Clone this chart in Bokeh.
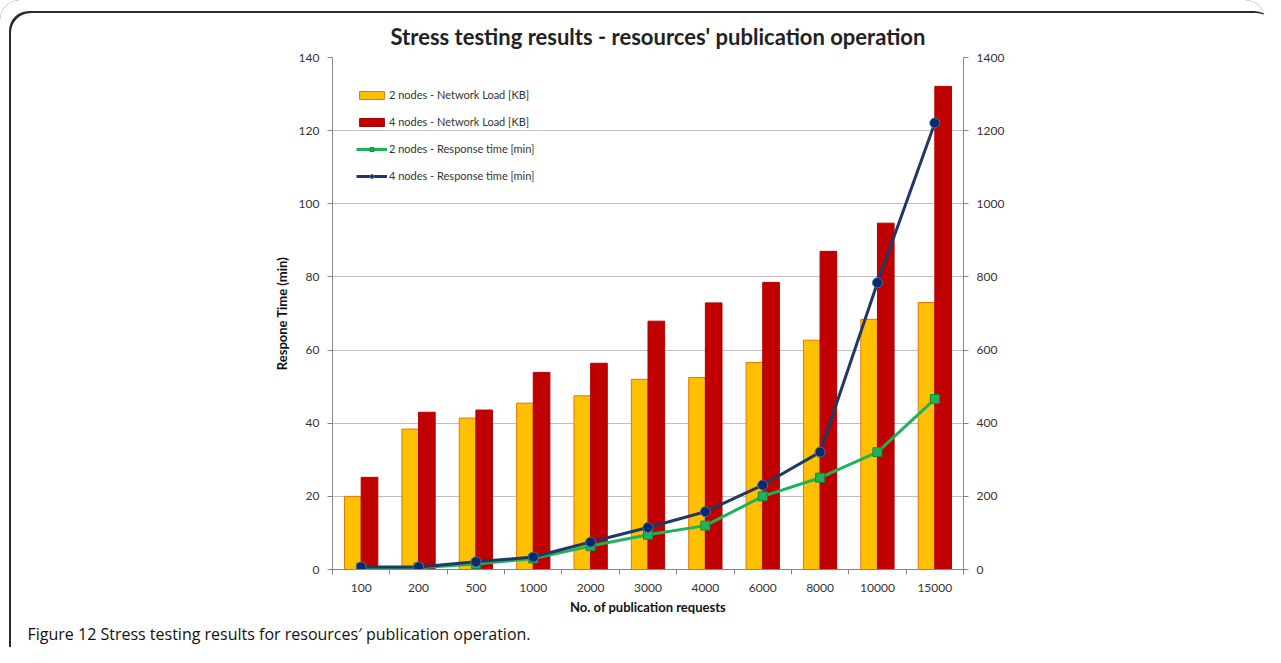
import math
import numpy as np
from bokeh.plotting import figure
from bokeh.models import (Range1d, LinearAxis, FixedTicker, Legend, LegendItem,
                          Label, ColumnDataSource, Title)
from bokeh.embed import file_html
from bokeh.resources import INLINE

# ---------------- data ----------------
categories = ["100", "200", "500", "1000", "2000", "3000", "4000", "6000", "8000", "10000", "15000"]
load_2_nodes = [200, 384, 414, 455, 475, 520, 525, 566, 627, 684, 730]      # KB
load_4_nodes = [252, 430, 436, 539, 564, 679, 729, 785, 870, 947, 1321]     # KB
time_2_nodes = [0.5, 0.5, 1.5, 3.0, 6.4, 9.5, 12.0, 20.0, 25.1, 32.1, 46.6]  # min
time_4_nodes = [0.7, 0.7, 2.1, 3.4, 7.5, 11.5, 15.8, 23.1, 32.1, 78.4, 122.1]  # min

left_ticks = [0, 20, 40, 60, 80, 100, 120, 140]
right_ticks = [0, 200, 400, 600, 800, 1000, 1200, 1400]

title_text = "Stress testing results - resources' publication operation"
caption_text = "Figure 12 Stress testing results for resources\u2032 publication operation."

# ---------------- geometry helpers ----------------
n = len(categories)
centers = np.arange(n) + 0.5
bar_w = 0.29
src = ColumnDataSource(dict(
    x=centers,
    x_2=centers - bar_w / 2,
    x_4=centers + bar_w / 2,
    load2=load_2_nodes,
    load4=load_4_nodes,
    t2=time_2_nodes,
    t4=time_4_nodes,
))

FONT = "Lato"
W, H = 1265, 647
FL, FT, FR, FB = 332, 57, 963, 570   # frame edges in canvas px

p = figure(width=W, height=H, output_backend="svg", toolbar_location=None,
           x_range=Range1d(0, n), y_range=Range1d(0, 140),
           min_border_left=FL, min_border_right=W - FR,
           min_border_top=FT, min_border_bottom=H - FB)
p.outline_line_color = None
p.background_fill_color = "white"
p.border_fill_color = None
# thin rounded panel frame drawn behind the (transparent) canvas border area
p.styles = {"box-shadow": "inset 9px 11px 0 0 #ffffff, inset 11px 13px 0 0 #2b2b2b",
            "border-radius": "20px 20px 0 0", "background-color": "#ffffff"}

p.extra_y_ranges = {"right": Range1d(0, 1400)}

# title
p.title.text = title_text
p.title.align = "left"
p.title.offset = 58
p.title.text_font = FONT
p.title.text_font_size = "22px"
p.title.text_font_style = "bold"
p.title.text_color = "#222222"
p.title.standoff = 16

# grid
p.xgrid.visible = False
p.ygrid.ticker = FixedTicker(ticks=left_ticks)
p.ygrid.grid_line_color = "#BFBFBF"
p.ygrid.grid_line_width = 1

# x axis
xa = p.xaxis[0]
xa.ticker = FixedTicker(ticks=list(centers), minor_ticks=list(np.arange(n + 1)))
xa.major_label_overrides = {float(c): lab for c, lab in zip(centers, categories)}
xa.major_tick_out = 0
xa.major_tick_in = 0
xa.minor_tick_out = 5
xa.minor_tick_in = 0
xa.minor_tick_line_color = "#868686"
xa.axis_line_color = "#868686"
xa.major_label_text_font = FONT
xa.major_label_text_font_size = "12px"
xa.major_label_text_color = "#333333"
xa.major_label_standoff = 9
xa.axis_label = "No. of publication requests"
xa.axis_label_text_font = FONT
xa.axis_label_text_font_size = "13px"
xa.axis_label_text_font_style = "bold"
xa.axis_label_text_color = "#111111"
xa.axis_label_standoff = 4

# left axis
ya = p.yaxis[0]
ya.ticker = FixedTicker(ticks=left_ticks)
ya.major_tick_out = 5
ya.major_tick_in = 0
ya.minor_tick_line_color = None
ya.major_tick_line_color = "#868686"
ya.axis_line_color = "#868686"
ya.major_label_text_font = FONT
ya.major_label_text_font_size = "12px"
ya.major_label_text_color = "#333333"
ya.major_label_standoff = 8
ya.axis_label = "Respone Time (min)"
ya.axis_label_text_font = FONT
ya.axis_label_text_font_size = "13px"
ya.axis_label_text_font_style = "bold"
ya.axis_label_text_color = "#111111"
ya.axis_label_standoff = 6

# right axis
ra = LinearAxis(y_range_name="right", ticker=FixedTicker(ticks=right_ticks))
ra.major_tick_out = 5
ra.major_tick_in = 0
ra.minor_tick_line_color = None
ra.major_tick_line_color = "#868686"
ra.axis_line_color = "#868686"
ra.major_label_text_font = FONT
ra.major_label_text_font_size = "12px"
ra.major_label_text_color = "#333333"
ra.major_label_standoff = 8
p.add_layout(ra, "right")

p.add_layout(Label(x=n, y=70, x_offset=58, text="Network Load [KB]", angle=math.pi / 2,
                   text_align="center", text_baseline="middle",
                   text_font=FONT, text_font_size="13px", text_font_style="bold",
                   text_color="#111111"))

# bars
yb = p.vbar(x="x_2", top="load2", bottom=0, width=bar_w, source=src, y_range_name="right",
            fill_color="#FFC000", line_color="#E8720C", line_width=1)
rb = p.vbar(x="x_4", top="load4", bottom=0, width=bar_w, source=src, y_range_name="right",
            fill_color="#C00000", line_color="#B00000", line_width=1)

# lines
gl = p.line(x="x", y="t2", source=src, line_color="#1DB35A", line_width=3)
gs = p.scatter(x="x", y="t2", source=src, marker="square", size=9,
               fill_color="#1DB35A", line_color="#128A40", line_width=1)
nl = p.line(x="x", y="t4", source=src, line_color="#1F3864", line_width=3)
ns = p.scatter(x="x", y="t4", source=src, marker="circle", size=10,
               fill_color="#0B2A6B", line_color="#4A6FA5", line_width=1)

legend = Legend(items=[
    LegendItem(label="2 nodes - Network Load [KB]", renderers=[yb]),
    LegendItem(label="4 nodes - Network Load [KB]", renderers=[rb]),
    LegendItem(label="2 nodes - Response time [min]", renderers=[gl, gs]),
    LegendItem(label="4 nodes - Response time [min]", renderers=[nl, ns]),
], location="top_left")
legend.background_fill_alpha = 0
legend.border_line_color = None
legend.label_text_font = FONT
legend.label_text_font_size = "11px"
legend.label_text_color = "#333333"
legend.glyph_width = 31
legend.glyph_height = 10
legend.label_height = 27
legend.label_standoff = 2
legend.spacing = 0
legend.padding = 0
legend.margin = 24
p.add_layout(legend, "center")

# caption line below the chart
cap = Title(text=caption_text, align="left", offset=27 - FL, standoff=6,
            text_font="Open Sans", text_font_size="16px", text_font_style="normal",
            text_color="#111111")
p.add_layout(cap, "below")

open("out.html", "w").write(file_html(p, INLINE))
